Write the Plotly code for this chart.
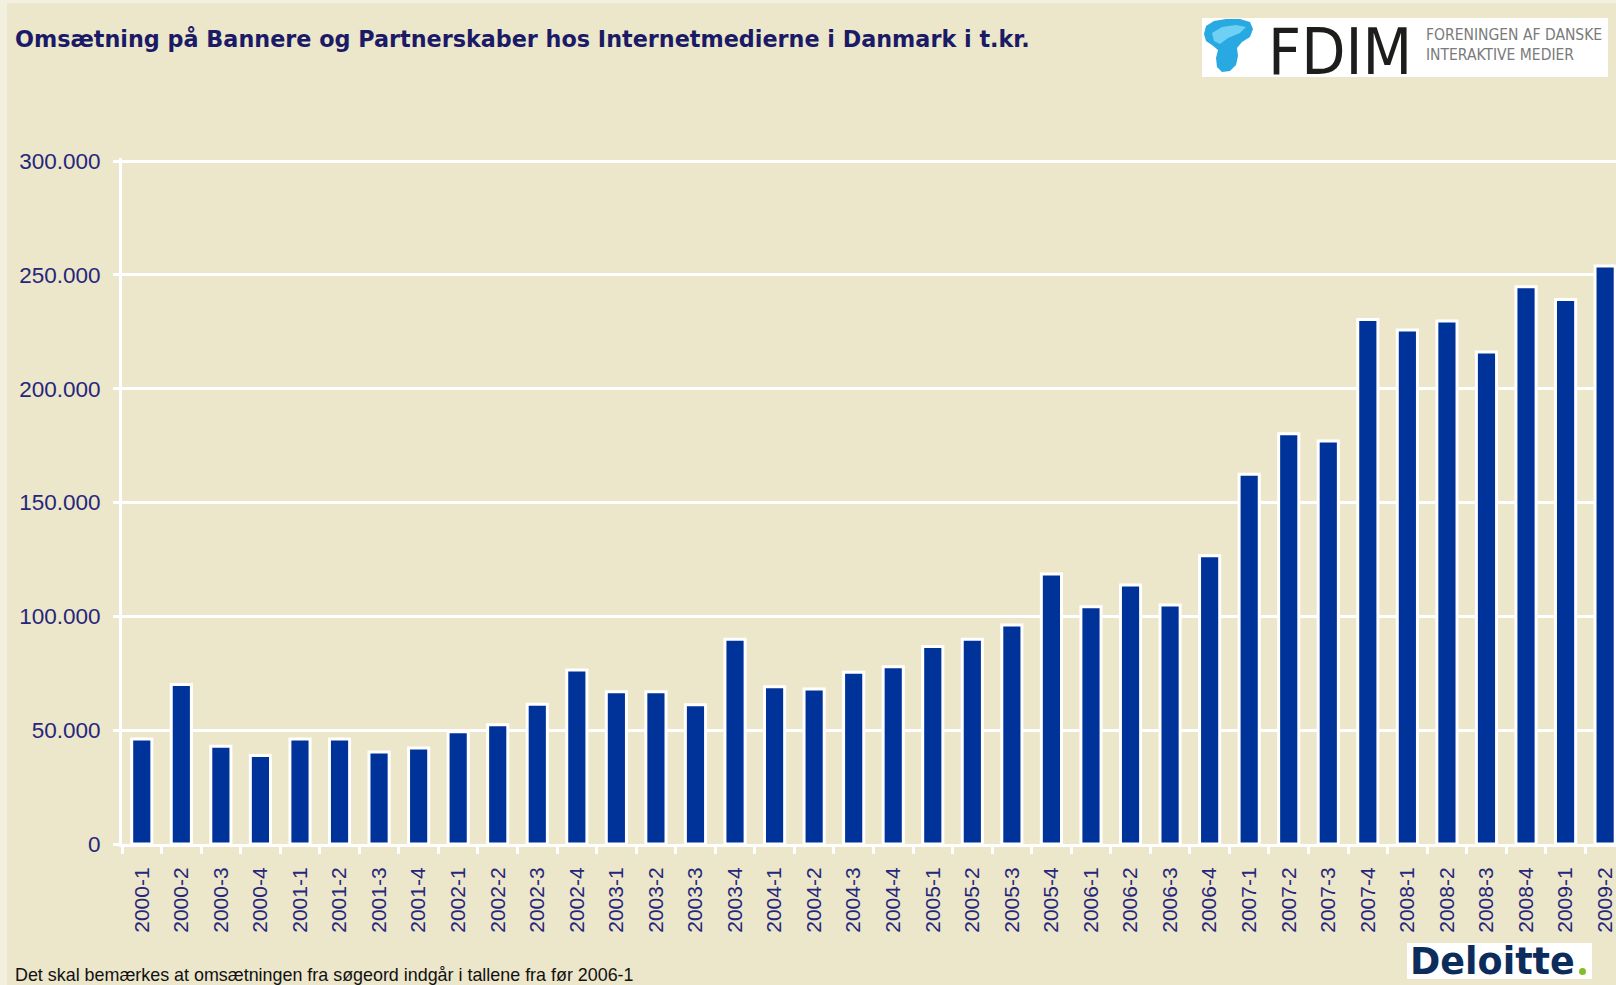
import plotly.graph_objects as go

# Quarterly revenue (t.kr.) from banners and partnerships
quarters = [
    "2000-1", "2000-2", "2000-3", "2000-4",
    "2001-1", "2001-2", "2001-3", "2001-4",
    "2002-1", "2002-2", "2002-3", "2002-4",
    "2003-1", "2003-2", "2003-3", "2003-4",
    "2004-1", "2004-2", "2004-3", "2004-4",
    "2005-1", "2005-2", "2005-3", "2005-4",
    "2006-1", "2006-2", "2006-3", "2006-4",
    "2007-1", "2007-2", "2007-3", "2007-4",
    "2008-1", "2008-2", "2008-3", "2008-4",
    "2009-1", "2009-2",
]
revenue = [
    46100, 70100, 42900, 38900,
    46100, 46100, 40400, 42200,
    49300, 52400, 61400, 76400,
    66900, 66900, 61200, 89900,
    69100, 68100, 75400, 77900,
    86700, 89900, 96200, 118600,
    104200, 113800, 105000, 126600,
    162400, 180200, 177000, 230400,
    225800, 229700, 216100, 244800,
    239200, 253900,
]
y_ticks = [0, 50000, 100000, 150000, 200000, 250000, 300000]

title_text = "Omsætning på Bannere og Partnerskaber hos Internetmedierne i Danmark i t.kr."
note_text = "Det skal bemærkes at omsætningen fra søgeord indgår i tallene fra før 2006-1"

W, H = 1616, 985
L, R, T, B = 122, 0, 158, 141
PW, PH = W - L - R, H - T - B

BG = "#ece6ca"
BAR = "#003399"
NAVY = "#26267a"
FONT = "Liberation Sans, Arial, sans-serif"
WIDE = "DejaVu Sans, Verdana, sans-serif"
NARROW = "Liberation Sans Narrow, DejaVu Sans Condensed, Liberation Sans"


def px(x):
    return (x - L) / PW


def py(y):
    return (H - B - y) / PH


fig = go.Figure(
    go.Bar(
        x=quarters,
        y=revenue,
        width=0.51,
        marker=dict(color=BAR, line=dict(color="white", width=3)),
        hoverinfo="x+y",
    )
)

shapes = [
    # light frame along the left and top edges
    dict(type="rect", xref="paper", yref="paper", x0=px(0), x1=px(7), y0=py(H), y1=py(0),
         fillcolor="#f4f0e0", line=dict(width=0), layer="below"),
    dict(type="rect", xref="paper", yref="paper", x0=px(0), x1=px(W), y0=py(3), y1=py(0),
         fillcolor="#f4f0e0", line=dict(width=0), layer="below"),
    # logo boxes
    dict(type="rect", xref="paper", yref="paper", x0=px(1202), x1=px(1608), y0=py(77), y1=py(18),
         fillcolor="white", line=dict(width=0)),
    dict(type="rect", xref="paper", yref="paper", x0=px(1407), x1=px(1592), y0=py(979), y1=py(943),
         fillcolor="white", line=dict(width=0)),
    dict(type="circle", xref="paper", yref="paper", x0=px(1579), x1=px(1586), y0=py(975), y1=py(968),
         fillcolor="#86bc25", line=dict(width=0)),
]


def blob_path(points):
    pts = [f"{px(x):.5f},{py(y):.5f}" for x, y in points]
    return "M " + " L ".join(pts) + " Z"


# FDIM emblem: a soft blue droplet shape
blob_main = [
    (1204, 34), (1206, 26), (1214, 21), (1226, 19), (1240, 19), (1250, 22), (1253, 29),
    (1250, 37), (1242, 42), (1237, 48), (1238, 56), (1236, 65), (1230, 71), (1222, 72),
    (1217, 67), (1216, 58), (1218, 50), (1212, 45), (1206, 41),
]
blob_light = [
    (1212, 33), (1222, 27), (1236, 25), (1246, 27), (1240, 33), (1228, 38), (1220, 44),
    (1214, 41),
]
shapes.append(dict(type="path", xref="paper", yref="paper", path=blob_path(blob_main),
                   fillcolor="#29a9e1", line=dict(width=0)))
shapes.append(dict(type="path", xref="paper", yref="paper", path=blob_path(blob_light),
                   fillcolor="#6fd0f5", line=dict(width=0)))

annotations = [
    dict(text="FDIM", xref="paper", yref="paper", x=px(1266), y=py(52), xanchor="left",
         yanchor="middle", showarrow=False,
         font=dict(family=NARROW, size=64, color="#1d1d1b")),
    dict(text="FORENINGEN AF DANSKE<br>INTERAKTIVE MEDIER", xref="paper", yref="paper",
         x=px(1424), y=py(45), xanchor="left", yanchor="middle", align="left", showarrow=False,
         font=dict(family=NARROW, size=15.5, color="#7a7a7a")),
    dict(text="<b>Deloitte</b>", xref="paper", yref="paper", x=px(1408), y=py(961),
         xanchor="left", yanchor="middle", showarrow=False,
         font=dict(family=WIDE, size=36.5, color="#0c2c5c")),
    dict(text=note_text, xref="paper", yref="paper", x=px(13), y=py(975), xanchor="left",
         yanchor="middle", showarrow=False, font=dict(family=FONT, size=17.9, color="#111111")),
]

fig.update_layout(
    width=W,
    height=H,
    margin=dict(l=L, r=R, t=T, b=B, pad=0),
    paper_bgcolor=BG,
    plot_bgcolor=BG,
    separators=",.",
    showlegend=False,
    title=dict(text=f"<b>{title_text}</b>", x=15 / W, xanchor="left", xref="container",
               y=1 - 39 / H, yanchor="middle", font=dict(family=WIDE, size=22.3, color="#1a1a66")),
    shapes=shapes,
    annotations=annotations,
    xaxis=dict(
        type="category",
        range=[-0.5, -0.5 + PW / 39.55],
        showgrid=False,
        zeroline=False,
        showline=True,
        linecolor="white",
        linewidth=3,
        ticks="outside",
        tickson="boundaries",
        ticklen=7,
        tickwidth=3,
        tickcolor="white",
        tickangle=-90,
        ticklabelstandoff=12,
        tickfont=dict(family=FONT, size=21, color=NAVY),
    ),
    yaxis=dict(
        range=[0, 300000 * PH / 683],
        tickvals=y_ticks,
        tickformat=",d",
        showgrid=True,
        gridcolor="white",
        gridwidth=3,
        zeroline=False,
        showline=True,
        linecolor="white",
        linewidth=3,
        ticks="outside",
        ticklen=6,
        tickwidth=3,
        tickcolor="white",
        ticklabelstandoff=8,
        tickfont=dict(family=FONT, size=22.5, color=NAVY),
    ),
)

fig.write_html("out.html")
